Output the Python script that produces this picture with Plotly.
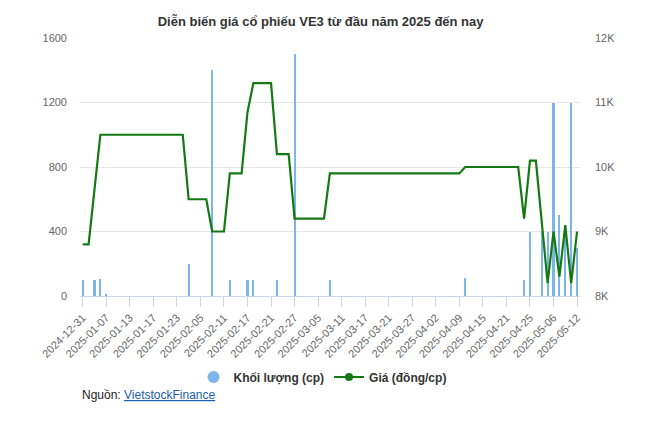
import plotly.graph_objects as go

dates = [
    "2024-12-31", "2025-01-02", "2025-01-03", "2025-01-06", "2025-01-07", "2025-01-08",
    "2025-01-09", "2025-01-10", "2025-01-13", "2025-01-14", "2025-01-15", "2025-01-16",
    "2025-01-17", "2025-01-20", "2025-01-21", "2025-01-22", "2025-01-23", "2025-01-24",
    "2025-02-03", "2025-02-04", "2025-02-05", "2025-02-06", "2025-02-07", "2025-02-10",
    "2025-02-11", "2025-02-12", "2025-02-13", "2025-02-14", "2025-02-17", "2025-02-18",
    "2025-02-19", "2025-02-20", "2025-02-21", "2025-02-24", "2025-02-25", "2025-02-26",
    "2025-02-27", "2025-02-28", "2025-03-03", "2025-03-04", "2025-03-05", "2025-03-06",
    "2025-03-07", "2025-03-10", "2025-03-11", "2025-03-12", "2025-03-13", "2025-03-14",
    "2025-03-17", "2025-03-18", "2025-03-19", "2025-03-20", "2025-03-21", "2025-03-24",
    "2025-03-25", "2025-03-26", "2025-03-27", "2025-03-28", "2025-03-31", "2025-04-01",
    "2025-04-02", "2025-04-03", "2025-04-04", "2025-04-08", "2025-04-09", "2025-04-10",
    "2025-04-11", "2025-04-14", "2025-04-15", "2025-04-16", "2025-04-17", "2025-04-18",
    "2025-04-21", "2025-04-22", "2025-04-23", "2025-04-24", "2025-04-25", "2025-04-28",
    "2025-04-29", "2025-05-05", "2025-05-06", "2025-05-07", "2025-05-08", "2025-05-09",
    "2025-05-12",
]

volume = [
    100, 0, 100, 105, 10, 0, 0, 0, 0, 0, 0, 0, 0, 0, 0, 0, 0, 0,
    200, 0, 0, 0, 1400, 0, 0, 100, 0, 0, 100, 100, 0, 0, 0, 100, 0, 0,
    1500, 0, 0, 0, 0, 0, 100, 0, 0, 0, 0, 0, 0, 0, 0, 0, 0, 0,
    0, 0, 0, 0, 0, 0, 0, 0, 0, 0, 0, 110, 0, 0, 0, 0, 0, 0,
    0, 0, 0, 100, 400, 0, 400, 400, 1200, 500, 400, 1200, 300,
]

price = [
    8800, 8800, 9650, 10500, 10500, 10500, 10500, 10500, 10500, 10500, 10500, 10500,
    10500, 10500, 10500, 10500, 10500, 10500,
    9500, 9500, 9500, 9500, 9000, 9000, 9000, 9900, 9900, 9900, 10850, 11300,
    11300, 11300, 11300, 10200, 10200, 10200,
    9200, 9200, 9200, 9200, 9200, 9200, 9900, 9900, 9900, 9900, 9900, 9900,
    9900, 9900, 9900, 9900, 9900, 9900, 9900, 9900, 9900, 9900, 9900, 9900,
    9900, 9900, 9900, 9900, 9900, 10000, 10000, 10000, 10000, 10000, 10000, 10000,
    10000, 10000, 10000, 9200, 10100, 10100, 9150, 8200, 9000, 8300, 9100, 8200,
    9000,
]

left_ticks = [0, 400, 800, 1200, 1600]
right_ticks = [8000, 9000, 10000, 11000, 12000]
right_labels = ["8K", "9K", "10K", "11K", "12K"]

title_text = "Diễn biến giá cổ phiếu VE3 từ đầu năm 2025 đến nay"
vol_name = "Khối lượng (cp)"
price_name = "Giá (đồng/cp)"

BAR_COLOR = "#7cb5ec"
LINE_COLOR = "#137a13"
FONT = "Liberation Sans, Arial, sans-serif"

idx = list(range(len(dates)))
tick_idx = idx[::4]
tick_txt = [dates[i] for i in tick_idx]

fig = go.Figure()
fig.add_trace(go.Bar(
    x=idx, y=volume, name=vol_name, marker=dict(color=BAR_COLOR, line=dict(width=0)),
    width=0.36, showlegend=False, yaxis="y",
))
fig.add_trace(go.Scatter(
    x=idx, y=price, name=price_name, mode="lines",
    line=dict(color=LINE_COLOR, width=2.2), showlegend=False, yaxis="y2",
))
# legend entries
fig.add_trace(go.Scatter(
    x=[None], y=[None], name=vol_name, mode="markers",
    marker=dict(color=BAR_COLOR, size=12, symbol="circle"), yaxis="y",
))
fig.add_trace(go.Scatter(
    x=[None], y=[None], name=price_name, mode="lines+markers",
    line=dict(color=LINE_COLOR, width=2), marker=dict(color=LINE_COLOR, size=8),
    yaxis="y2",
))

# page body has an 8px margin; figure is sized/offset to compensate
fig.update_layout(
    width=638, height=424,
    margin=dict(l=72, r=66, t=30, b=136),
    paper_bgcolor="white", plot_bgcolor="white",
    font=dict(family=FONT, color="#666666", size=11),
    title=dict(text="<b>" + title_text + "</b>", x=0.49, xanchor="center",
               y=1 - 13 / 424, yanchor="middle",
               font=dict(family=FONT, size=13, color="#333333")),
    bargap=0,
    showlegend=True,
    legend=dict(orientation="h", x=0.485, xanchor="center", y=-0.314, yanchor="middle",
                font=dict(family=FONT, size=12, color="#333333", weight="bold"),
                itemwidth=30, tracegroupgap=0),
    xaxis=dict(
        range=[-0.46, 84.5], tickmode="array", tickvals=tick_idx, ticktext=tick_txt,
        tickangle=-45, ticks="outside", ticklen=10, tickcolor="#ccd6eb",
        showline=True, linecolor="#ccd6eb", linewidth=1, showgrid=False,
        zeroline=False, tickfont=dict(size=11, color="#666666"),
    ),
    yaxis=dict(
        range=[0, 1600], tickmode="array", tickvals=left_ticks,
        showgrid=True, gridcolor="#e6e6e6", gridwidth=1, zeroline=False,
        ticklabelstandoff=12, tickfont=dict(size=11, color="#666666"),
    ),
    yaxis2=dict(
        range=[8000, 12000], tickmode="array", tickvals=right_ticks, ticktext=right_labels,
        overlaying="y", side="right", showgrid=False, zeroline=False,
        ticklabelstandoff=14, tickfont=dict(size=11, color="#666666"),
    ),
    annotations=[dict(
        text="Nguồn: <span style='color:#1a5dab'><u>VietstockFinance</u></span>",
        xref="paper", yref="paper", x=0, xanchor="left", y=-0.384, yanchor="middle",
        showarrow=False, font=dict(family=FONT, size=12, color="#222222"),
    )],
)

fig.write_html("out.html")
